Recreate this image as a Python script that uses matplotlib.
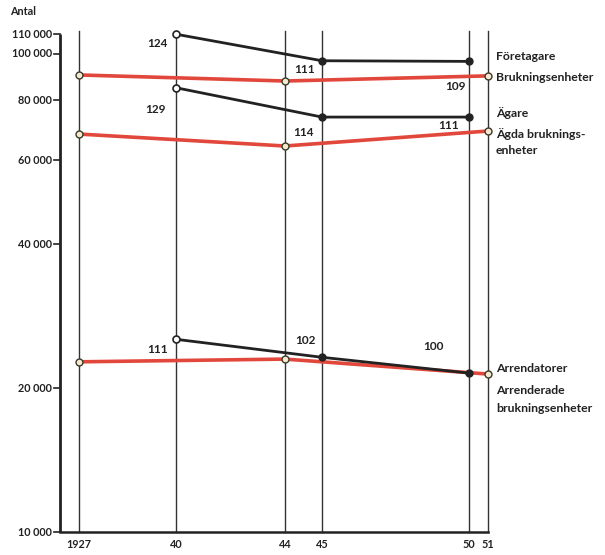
import numpy as np
import matplotlib
matplotlib.use('Agg')
import matplotlib.pyplot as plt

plt.rcParams['font.family'] = ['Lato', 'DejaVu Sans']
plt.rcParams['font.weight'] = 'bold'

# years on the (broken) time axis and their tick labels
tick_years = [1927, 1940, 1944, 1945, 1950, 1951]
tick_labels = ['1927', '40', '44', '45', '50', '51']
# horizontal placement of each year (the axis is not linear in time)
tick_pos = [79, 176, 285, 322, 469, 488]

# black series: persons
foretagare_years = [1940, 1945, 1950]
foretagare = [110000, 96800, 96500]
agare_years = [1940, 1945, 1950]
agare = [85000, 73800, 73800]
arrendatorer_years = [1940, 1945, 1950]
arrendatorer = [25300, 23200, 21500]

# red series: holdings
bruk_years = [1927, 1944, 1951]
brukningsenheter = [90400, 87800, 90000]
agda_years = [1927, 1944, 1951]
agda = [68000, 64200, 69000]
arrenderade_years = [1927, 1944, 1951]
arrenderade = [22700, 23000, 21400]

# index numbers printed next to the black lines
index_foretagare = ['124', '111', '109']
index_agare = ['129', '114', '111']
index_arrendatorer = ['111', '102', '100']

y_ticks = [10000, 20000, 40000, 60000, 80000, 100000, 110000]
y_labels = ['10 000', '20 000', '40 000', '60 000', '80 000', '100 000', '110 000']

RED = '#e2473b'
INK = '#222222'


def xp(years):
    return np.interp(years, tick_years, tick_pos)


def yp(pix):
    # pixel row in the picture -> value on the log axis
    return 10 ** (4 + (532 - pix) / 478)


fig = plt.figure(figsize=(6.05, 5.55), dpi=100)
ax = fig.add_axes([0, 0, 1, 1])
ax.set_yscale('log')
ax.set_xlim(0, 605)
ax.set_ylim(yp(555), yp(0))
ax.axis('off')

# vertical year lines
for p in tick_pos:
    ax.plot([p, p], [10000, 111500], color='#333333', lw=1.0, zorder=1)

# left axis with ticks
x0 = 60
ax.plot([x0, x0], [10000, 110000], color=INK, lw=2.0, solid_capstyle='butt', zorder=2)
ax.plot([x0, tick_pos[-1]], [10000, 10000], color=INK, lw=1.8, zorder=2)
for v, lab in zip(y_ticks, y_labels):
    ax.plot([x0 - 6, x0], [v, v], color=INK, lw=1.2)
    ax.text(x0 - 8, v, lab, ha='right', va='center', fontsize=7.8, color=INK)
ax.text(10, yp(12), 'Antal', ha='left', va='center', fontsize=7.8, color=INK)

for p, lab in zip(tick_pos, tick_labels):
    ax.text(p, yp(545), lab, ha='center', va='center', fontsize=7.8, color=INK)

# red lines
for yrs, vals in [(bruk_years, brukningsenheter), (agda_years, agda),
                  (arrenderade_years, arrenderade)]:
    ax.plot(xp(yrs), vals, color=RED, lw=2.6, zorder=3)
    ax.plot(xp(yrs), vals, 'o', ms=5, mfc='#f6e9d0', mec='#3a3a2a', mew=1.0, zorder=5)

# black lines
for yrs, vals in [(foretagare_years, foretagare), (agare_years, agare),
                  (arrendatorer_years, arrendatorer)]:
    ax.plot(xp(yrs), vals, color=INK, lw=2.0, zorder=4)
    ax.plot(xp(yrs[:1]), vals[:1], 'o', ms=5, mfc='white', mec=INK, mew=1.2, zorder=6)
    ax.plot(xp(yrs[1:]), vals[1:], 'o', ms=5, mfc=INK, mec=INK, zorder=6)

# index numbers
lab_kw = dict(fontsize=8.5, color=INK, ha='center', va='center')
ax.text(157, yp(44), index_foretagare[0], **lab_kw)
ax.text(305, yp(70), index_foretagare[1], **lab_kw)
ax.text(455, yp(87), index_foretagare[2], **lab_kw)
ax.text(155, yp(110), index_agare[0], **lab_kw)
ax.text(303, yp(133), index_agare[1], **lab_kw)
ax.text(449, yp(126), index_agare[2], **lab_kw)
ax.text(158, yp(350), index_arrendatorer[0], **lab_kw)
ax.text(305, yp(341), index_arrendatorer[1], **lab_kw)
ax.text(433, yp(347), index_arrendatorer[2], **lab_kw)

# series names on the right
names = [('Företagare', 57), ('Brukningsenheter', 77), ('Ägare', 113),
         ('Ägda bruknings-', 134), ('enheter', 151), ('Arrendatorer', 369),
         ('Arrenderade', 391), ('brukningsenheter', 408)]
for txt, py in names:
    ax.text(496, yp(py), txt, ha='left', va='center', fontsize=8.8, color=INK)

fig.savefig('out.png', dpi=100, facecolor='white')
